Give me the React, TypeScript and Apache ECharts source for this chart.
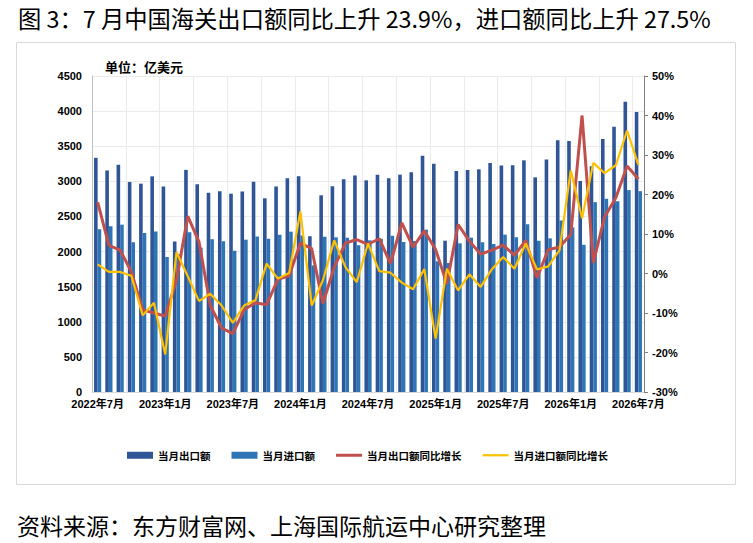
import React, { useEffect, useRef } from "react";
import * as echarts from "echarts";

const categories = [
  "2022年7月", "2022年8月", "2022年9月", "2022年10月", "2022年11月", "2022年12月",
  "2023年1月", "2023年2月", "2023年3月", "2023年4月", "2023年5月", "2023年6月",
  "2023年7月", "2023年8月", "2023年9月", "2023年10月", "2023年11月", "2023年12月",
  "2024年1月", "2024年2月", "2024年3月", "2024年4月", "2024年5月", "2024年6月",
  "2024年7月", "2024年8月", "2024年9月", "2024年10月", "2024年11月", "2024年12月",
  "2025年1月", "2025年2月", "2025年3月", "2025年4月", "2025年5月", "2025年6月",
  "2025年7月", "2025年8月", "2025年9月", "2025年10月", "2025年11月", "2025年12月",
  "2026年1月", "2026年2月", "2026年3月", "2026年4月", "2026年5月", "2026年6月",
  "2026年7月",
];

const exportValues = [
  3335, 3155, 3237, 2991, 2967, 3071, 2926, 2143, 3163, 2957, 2839, 2858,
  2824, 2855, 2995, 2758, 2927, 3043, 3071, 2218, 2801, 2929, 3029, 3084,
  3014, 3095, 3043, 3095, 3128, 3366, 3252, 2155, 3147, 3161, 3171, 3261,
  3226, 3228, 3299, 3057, 3311, 3584, 3574, 3005, 3216, 3603, 3779, 4135,
  3987,
];

const importValues = [
  2318, 2362, 2383, 2131, 2264, 2285, 1923, 1960, 2274, 2055, 2176, 2148,
  2013, 2169, 2214, 2184, 2241, 2283, 2228, 1804, 2212, 2203, 2198, 2089,
  2160, 2181, 2224, 2136, 2150, 2312, 1861, 1837, 2117, 2198, 2131, 2108,
  2241, 2203, 2388, 2155, 2188, 2443, 2343, 2096, 2703, 2753, 2718, 2875,
  2860,
];

const exportYoY = [
  18.1, 7.1, 5.9, 0.4, -9.2, -10.0, -10.8, -1.7, 14.5, 8.0, -8.1, -13.8,
  -15.2, -9.2, -7.4, -7.9, -1.5, -0.6, 7.7, 6.3, -7.6, 1.6, 7.7, 8.6,
  7.4, 8.8, 2.5, 12.8, 6.7, 10.8, 6.1, -2.6, 12.4, 8.2, 4.9, 5.9,
  7.2, 4.6, 8.4, -1.1, 6.0, 6.7, 9.9, 40.0, 2.7, 14.3, 19.2, 27.2,
  23.9,
];

const importYoY = [
  2.3, 0.4, 0.4, -0.6, -10.6, -7.4, -20.5, 5.4, -0.7, -7.0, -5.1, -8.1,
  -12.5, -8.1, -6.8, 2.5, -1.3, 0.1, 15.7, -8.1, -1.7, 8.4, 1.6, -2.2,
  7.6, 0.6, 0.2, -2.3, -4.0, 1.1, -16.5, 1.2, -4.3, -0.2, -3.4, 1.1,
  4.2, 1.2, 7.6, 1.0, 1.8, 5.9, 26.1, 14.0, 28.0, 25.4, 27.4, 36.2,
  27.5,
];

const leftTicks = { min: 0, max: 4500, interval: 500 };
const rightTicks = { min: -30, max: 50, interval: 10 };

const titleText = "图 3：7 月中国海关出口额同比上升 23.9%，进口额同比上升 27.5%";
const sourceText = "资料来源：东方财富网、上海国际航运中心研究整理";
const unitText = "单位：亿美元";
const seriesNames = ["当月出口额", "当月进口额", "当月出口额同比增长", "当月进口额同比增长"];

const CJK = '"Noto Sans CJK SC", "Noto Sans", sans-serif';
const NARROW = '"Liberation Sans Narrow", "Arial Narrow", "Liberation Sans", "Noto Sans CJK SC", sans-serif';

export default function App() {
  const ref = useRef<HTMLDivElement>(null);

  useEffect(() => {
    if (!ref.current) return;
    const chart = echarts.init(ref.current, null, { renderer: "svg" });
    const axisLabelStyle = {
      fontFamily: NARROW,
      fontSize: 11,
      fontWeight: "bold" as const,
      color: "#000",
    };
    chart.setOption({
      animation: false,
      backgroundColor: "#fff",
      graphic: [
        {
          type: "text",
          x: 18,
          y: 18,
          style: {
            text: titleText,
            fontFamily: CJK,
            fontSize: 23.3,
            fill: "#000",
            textVerticalAlign: "middle",
          },
        },
        {
          type: "text",
          x: 17,
          y: 525,
          style: {
            text: sourceText,
            fontFamily: CJK,
            fontSize: 23,
            lineHeight: 24,
            fill: "#000",
            textVerticalAlign: "middle",
          },
        },
        {
          type: "rect",
          shape: { x: 16.5, y: 42.5, width: 719, height: 442 },
          style: { fill: "none", stroke: "#d9d9d9", lineWidth: 1 },
          silent: true,
        },
        {
          type: "text",
          x: 105,
          y: 66,
          style: {
            text: unitText,
            fontFamily: CJK,
            fontSize: 13,
            fontWeight: "bold",
            fill: "#000",
            textVerticalAlign: "middle",
          },
        },
      ],
      legend: {
        left: 127,
        top: 450,
        padding: 0,
        itemWidth: 26,
        itemHeight: 7,
        itemGap: 21,
        textStyle: { fontFamily: CJK, fontSize: 10.5, fontWeight: "bold", color: "#000" },
        data: [
          { name: seriesNames[0], icon: "rect" },
          { name: seriesNames[1], icon: "rect" },
          { name: seriesNames[2], icon: "path://M0,0h26v3h-26z" },
          { name: seriesNames[3], icon: "path://M0,0h26v2.2h-26z" },
        ],
      },
      grid: { left: 92, top: 76, width: 552, height: 316, containLabel: false },
      xAxis: {
        type: "category",
        data: categories,
        boundaryGap: true,
        axisLine: { show: true, lineStyle: { color: "#d9d9d9" } },
        axisTick: { show: false },
        axisLabel: { ...axisLabelStyle, interval: 5, margin: 6 },
        splitLine: { show: true, interval: 2, lineStyle: { color: "#ebebeb" } },
      },
      yAxis: [
        {
          type: "value",
          ...leftTicks,
          axisLine: { show: true, lineStyle: { color: "#bfbfbf" } },
          axisTick: { show: false },
          axisLabel: { ...axisLabelStyle, margin: 10, formatter: (v: number) => String(v) },
          splitLine: { show: true, lineStyle: { color: "#ebebeb" } },
        },
        {
          type: "value",
          ...rightTicks,
          position: "right",
          axisLine: { show: true, lineStyle: { color: "#7f7f7f" } },
          axisTick: { show: true, length: 4, lineStyle: { color: "#7f7f7f" } },
          axisLabel: { ...axisLabelStyle, margin: 8, formatter: "{value}%" },
          splitLine: { show: false },
        },
      ],
      series: [
        {
          name: seriesNames[0],
          type: "bar",
          data: exportValues,
          barWidth: 3.6,
          barGap: "0%",
          itemStyle: { color: "#2f5597" },
        },
        {
          name: seriesNames[1],
          type: "bar",
          data: importValues,
          barWidth: 3.6,
          barGap: "0%",
          itemStyle: { color: "#2e75b6" },
        },
        {
          name: seriesNames[2],
          type: "line",
          yAxisIndex: 1,
          data: exportYoY,
          symbol: "none",
          lineStyle: { color: "#c0504d", width: 3 },
          itemStyle: { color: "#c0504d" },
          z: 3,
        },
        {
          name: seriesNames[3],
          type: "line",
          yAxisIndex: 1,
          data: importYoY,
          symbol: "none",
          lineStyle: { color: "#ffc000", width: 2.2 },
          itemStyle: { color: "#ffc000" },
          z: 4,
        },
      ],
    });
    return () => chart.dispose();
  }, []);

  return (
    <div
      style={{ position: "fixed", left: 0, top: 0, width: 753, height: 543, background: "#fff" }}
    >
      <div ref={ref} style={{ width: 753, height: 543 }} />
    </div>
  );
}
